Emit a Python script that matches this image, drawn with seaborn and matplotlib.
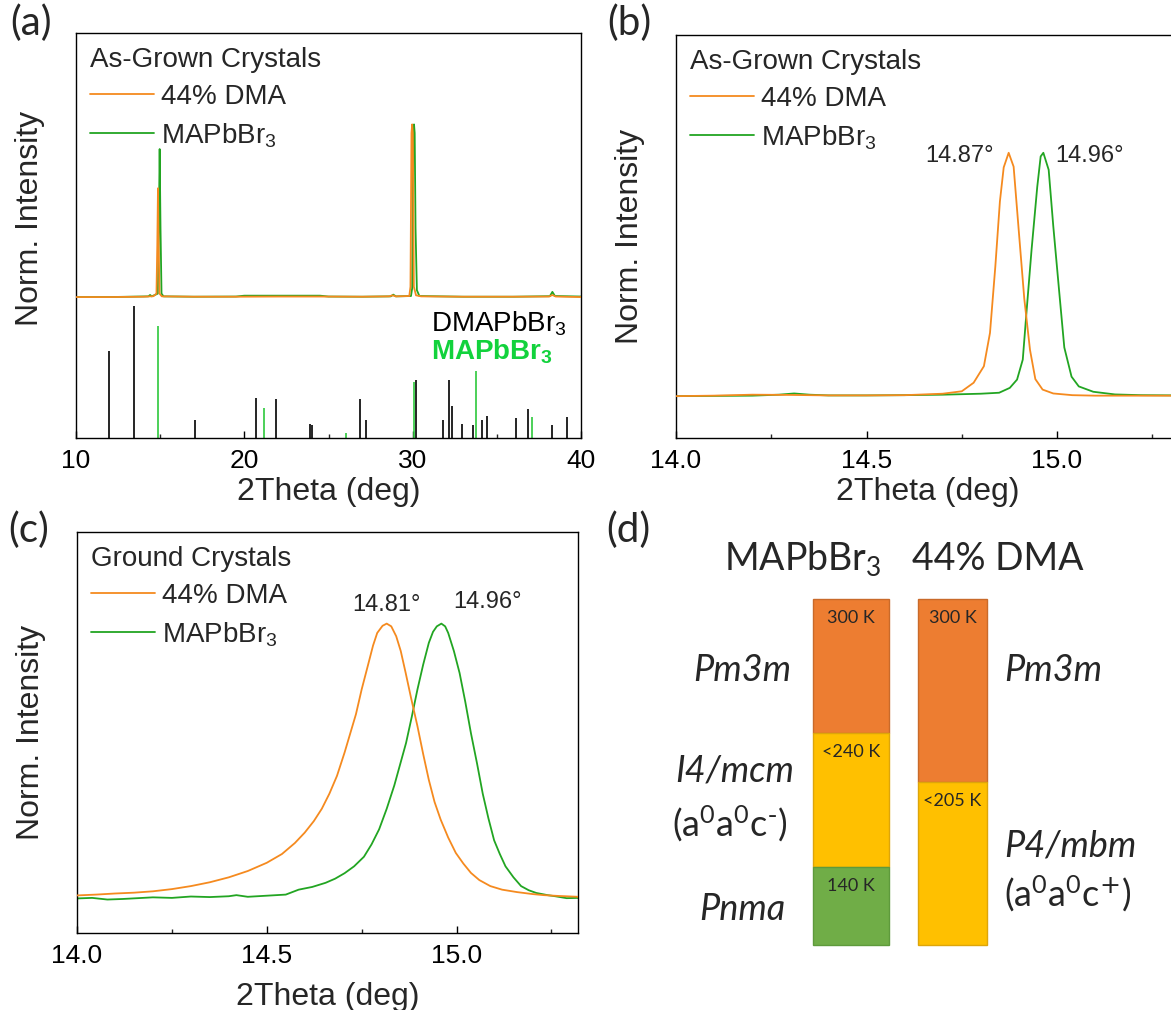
import matplotlib
matplotlib.use("Agg")
import matplotlib.pyplot as plt
from matplotlib.ticker import FormatStrFormatter
import numpy as np
import pandas as pd
import seaborn as sns

# ---------------- data ----------------
# (a) wide-range XRD patterns, normalized intensity
a_dma_x = [10.0, 12.0, 14.0, 14.6, 14.78, 14.83, 14.87, 14.91, 14.96, 15.1, 17.0, 19.5, 22.0, 24.5, 27.0,
           28.6, 28.8, 29.0, 29.8, 29.87, 29.93, 29.97, 30.01, 30.07, 30.2, 30.5, 33.0, 36.0, 38.1, 38.3, 38.5, 40.0]
a_dma_y = [0.000, 0.000, 0.002, 0.005, 0.020, 0.300, 0.630, 0.300, 0.020, 0.004, 0.002, 0.002, 0.003, 0.003, 0.002,
           0.004, 0.010, 0.004, 0.006, 0.060, 0.950, 1.000, 0.950, 0.060, 0.010, 0.004, 0.002, 0.002, 0.003, 0.012, 0.003, 0.000]
a_ma_x = [10.0, 12.0, 14.3, 14.4, 14.5, 14.86, 14.92, 14.97, 15.02, 15.08, 15.2, 17.0, 19.5, 20.0, 24.5, 25.0, 27.0,
          28.7, 28.85, 29.0, 29.9, 29.97, 30.03, 30.08, 30.12, 30.17, 30.25, 30.4, 33.0, 36.0, 38.15, 38.3, 38.45, 40.0]
a_ma_y = [0.000, 0.000, 0.004, 0.012, 0.004, 0.020, 0.400, 0.857, 0.400, 0.020, 0.004, 0.002, 0.003, 0.008, 0.008, 0.003, 0.002,
          0.004, 0.014, 0.004, 0.006, 0.050, 0.950, 1.000, 0.950, 0.400, 0.040, 0.006, 0.002, 0.002, 0.005, 0.030, 0.006, 0.003]

# (a) reference stick patterns (relative intensity, %)
dma_ref_pos = [11.99, 13.43, 17.09, 20.70, 21.87, 23.92, 24.02, 26.89, 27.23, 30.22, 31.79, 32.15, 32.35,
               32.95, 33.59, 34.14, 34.40, 36.16, 36.87, 38.27, 39.18]
dma_ref_int = [66.0, 100.0, 13.4, 30.2, 29.5, 10.6, 10.1, 29.5, 13.9, 43.6, 13.9, 44.1, 23.9,
               10.8, 9.6, 13.9, 16.4, 15.1, 22.2, 9.6, 15.6]
ma_ref_pos = [14.90, 21.14, 26.02, 30.10, 33.78, 37.11]
ma_ref_int = [84.9, 22.7, 3.8, 42.1, 50.4, 15.6]

# (b) as-grown crystals, (100) peak
b_dma_x = [14.00, 14.10, 14.20, 14.30, 14.40, 14.50, 14.60, 14.70, 14.75, 14.781, 14.808, 14.824, 14.838, 14.850,
           14.860, 14.873, 14.886, 14.900, 14.914, 14.929, 14.943, 14.962, 14.99, 15.04, 15.10, 15.20, 15.32]
b_dma_y = [0.000, 0.002, 0.006, 0.005, 0.003, 0.003, 0.004, 0.010, 0.020, 0.055, 0.123, 0.260, 0.533, 0.800,
           0.940, 1.000, 0.943, 0.670, 0.400, 0.190, 0.070, 0.027, 0.011, 0.004, 0.002, 0.002, 0.002]
b_ma_x = [14.00, 14.10, 14.20, 14.27, 14.31, 14.35, 14.40, 14.50, 14.60, 14.70, 14.80, 14.848, 14.876, 14.895,
          14.910, 14.919, 14.933, 14.948, 14.957, 14.964, 14.978, 14.990, 15.005, 15.019, 15.038, 15.057, 15.095,
          15.152, 15.22, 15.32]
b_ma_y = [0.000, 0.001, 0.002, 0.006, 0.011, 0.006, 0.003, 0.003, 0.004, 0.006, 0.010, 0.014, 0.034, 0.068,
          0.150, 0.330, 0.600, 0.860, 0.985, 1.000, 0.930, 0.700, 0.440, 0.200, 0.080, 0.040, 0.018,
          0.007, 0.004, 0.003]
b_peaks = ["14.87°", "14.96°"]

# (c) ground crystals, (100) peak
c_dma_x = [14.00, 14.05, 14.10, 14.15, 14.20, 14.25, 14.30, 14.35, 14.40, 14.45, 14.50, 14.54, 14.574, 14.60,
           14.624, 14.645, 14.665, 14.685, 14.705, 14.72, 14.735, 14.75, 14.766, 14.78, 14.791, 14.805, 14.816,
           14.828, 14.841, 14.853, 14.866, 14.88, 14.897, 14.912, 14.927, 14.942, 14.958, 14.978, 14.998, 15.018,
           15.038, 15.06, 15.089, 15.12, 15.16, 15.20, 15.23, 15.27, 15.32]
c_dma_y = [0.009, 0.012, 0.016, 0.019, 0.024, 0.032, 0.043, 0.057, 0.075, 0.098, 0.128, 0.160, 0.200, 0.238,
           0.280, 0.325, 0.380, 0.445, 0.530, 0.600, 0.670, 0.760, 0.845, 0.920, 0.966, 0.992, 1.000,
           0.990, 0.954, 0.900, 0.820, 0.730, 0.626, 0.525, 0.430, 0.350, 0.286, 0.220, 0.164, 0.125,
           0.091, 0.065, 0.043, 0.030, 0.021, 0.014, 0.010, 0.007, 0.004]
c_ma_x = [14.00, 14.04, 14.08, 14.12, 14.16, 14.20, 14.25, 14.30, 14.35, 14.40, 14.42, 14.45, 14.50, 14.55,
          14.584, 14.62, 14.655, 14.68, 14.705, 14.73, 14.756, 14.776, 14.796, 14.816, 14.836, 14.852, 14.867,
          14.882, 14.897, 14.912, 14.927, 14.938, 14.948, 14.96, 14.97, 14.978, 14.993, 15.008, 15.023, 15.038,
          15.054, 15.069, 15.084, 15.099, 15.114, 15.129, 15.15, 15.17, 15.19, 15.21, 15.24, 15.26, 15.29, 15.32]
c_ma_y = [-0.002, 0.000, -0.006, -0.004, -0.001, 0.002, 0.000, 0.005, 0.003, 0.006, 0.010, 0.004, 0.008, 0.012,
          0.030, 0.040, 0.055, 0.070, 0.090, 0.115, 0.150, 0.195, 0.250, 0.325, 0.410, 0.490, 0.565,
          0.660, 0.760, 0.850, 0.930, 0.970, 0.990, 1.000, 0.990, 0.966, 0.900, 0.820, 0.715, 0.600,
          0.490, 0.380, 0.290, 0.210, 0.160, 0.115, 0.075, 0.043, 0.028, 0.018, 0.010, 0.006, -0.001, 0.000]
c_peaks = ["14.81°", "14.96°"]

# (d) phase diagram (schematic fractions of column height, top = 300 K)
d_columns = ["MAPbBr$_3$", "44% DMA"]
d_ma_temps = ["300 K", "<240 K", "140 K"]
d_ma_spans = [0.387, 0.388, 0.225]
d_ma_phases = ["Pm3m", "I4/mcm\n(a$^0$a$^0$c$^{\\text{-}}$)", "Pnma"]
d_dma_temps = ["300 K", "<205 K"]
d_dma_spans = [0.529, 0.471]
d_dma_phases = ["Pm3m", "P4/mbm\n(a$^0$a$^0$c$^{\\text{+}}$)"]

# ---------------- style ----------------
sns.set_theme(style="white")
plt.rcParams["font.family"] = ["Liberation Sans", "DejaVu Sans"]
plt.rcParams["mathtext.default"] = "regular"
plt.rcParams["axes.edgecolor"] = "black"
plt.rcParams["axes.linewidth"] = 1.0

ORANGE = "#F58A1F"
GREEN = "#22A522"
STICK_GREEN = "#2DC83C"
LABEL_GREEN = "#12D23C"
BAR_FILL = ["#ED7D31", "#FFC000", "#70AD47"]
BAR_EDGE = ["#C96A2A", "#DDA50A", "#5E9A3C"]
CALIBRI = ["Lato", "DejaVu Sans"]

W, H = 1171, 1010
fig = plt.figure(figsize=(W / 100, H / 100), dpi=100)


def px_axes(l, t, r, b):
    return fig.add_axes([l / W, 1 - b / H, (r - l) / W, (b - t) / H])


def style_axes(ax, xlim, ylim, major, minor, fmt, ylab_y=0.5, xlab_y=-0.09):
    ax.set_xlim(*xlim)
    ax.set_ylim(*ylim)
    ax.set_xticks(major)
    ax.set_xticks(minor, minor=True)
    ax.xaxis.set_major_formatter(FormatStrFormatter(fmt))
    ax.tick_params(axis="x", which="major", direction="in", length=5, width=1.0,
                   labelsize=19, pad=8, bottom=True, top=False, colors="black")
    ax.tick_params(axis="x", which="minor", direction="in", length=2.7, width=1.0,
                   bottom=True, top=False)
    ax.tick_params(axis="y", left=False, right=False, labelleft=False)
    for s in ax.spines.values():
        s.set_color("black")
        s.set_linewidth(1.0)
    ax.set_xlabel("2Theta (deg)", fontsize=23)
    ax.set_ylabel("Norm. Intensity", fontsize=23)
    ax.yaxis.set_label_coords(-0.062, ylab_y)
    ax.xaxis.set_label_coords(0.5, xlab_y)


def add_legend(ax, title):
    leg = ax.legend(title=title, loc="upper left", frameon=False, fontsize=20,
                    title_fontsize=20, alignment="left", borderpad=0.0,
                    borderaxespad=0.5, handlelength=2.3, handletextpad=0.25,
                    labelspacing=0.4)
    return leg


def plot_pair(ax, x1, y1, x2, y2, off=0.0, scale=1.0):
    sns.lineplot(x=np.asarray(x1), y=off + scale * np.asarray(y1), ax=ax, color=ORANGE,
                 linewidth=1.3, label="44% DMA", estimator=None, sort=False, zorder=3)
    sns.lineplot(x=np.asarray(x2), y=off + scale * np.asarray(y2), ax=ax, color=GREEN,
                 linewidth=1.3, label="MAPbBr$_3$", estimator=None, sort=False, zorder=2)


# ---------------- (a) ----------------
axa = px_axes(76, 33, 581, 438)
XRD_OFF, XRD_SCALE, STICK_SCALE = 0.348, 0.4264, 0.3267 / 100.0
plot_pair(axa, a_dma_x, a_dma_y, a_ma_x, a_ma_y, XRD_OFF, XRD_SCALE)
axa.vlines(dma_ref_pos, 0, np.asarray(dma_ref_int) * STICK_SCALE, color="black", linewidth=1.2)
axa.vlines(ma_ref_pos, 0, np.asarray(ma_ref_int) * STICK_SCALE, color=STICK_GREEN, linewidth=1.2)
style_axes(axa, (10, 40), (0, 1), [10, 20, 30, 40], [15, 25, 35], "%d", ylab_y=0.543, xlab_y=-0.097)
add_legend(axa, "As-Grown Crystals")
axa.text(31.09, 0.262, "DMAPbBr$_3$", fontsize=20, color="black", ha="left", va="baseline")
axa.text(31.09, 0.193, "MAPbBr$_3$", fontsize=20, color=LABEL_GREEN, fontweight="bold",
         ha="left", va="baseline")

# ---------------- (b) ----------------
axb = px_axes(676, 35, 1179, 438)
plot_pair(axb, b_dma_x, b_dma_y, b_ma_x, b_ma_y)
style_axes(axb, (14.0, 15.32), (-0.172, 1.484), [14.0, 14.5, 15.0], [14.25, 14.75, 15.25], "%.1f",
           xlab_y=-0.097)
add_legend(axb, "As-Grown Crystals")
axb.text(14.745, 0.963, b_peaks[0], fontsize=17, ha="center", va="baseline")
axb.text(15.086, 0.963, b_peaks[1], fontsize=17, ha="center", va="baseline")

# ---------------- (c) ----------------
axc = px_axes(77, 532, 578, 933)
plot_pair(axc, c_dma_x, c_dma_y, c_ma_x, c_ma_y)
style_axes(axc, (14.0, 15.32), (-0.128, 1.334), [14.0, 14.5, 15.0], [14.25, 14.75, 15.25], "%.1f",
           xlab_y=-0.122)
add_legend(axc, "Ground Crystals")
axc.text(14.816, 1.045, c_peaks[0], fontsize=17, ha="center", va="baseline")
axc.text(15.081, 1.057, c_peaks[1], fontsize=17, ha="center", va="baseline")

# ---------------- (d) ----------------
axd = px_axes(600, 500, 1171, 1010)
axd.set_xlim(600, 1171)
axd.set_ylim((1010 - 599) / 346, (500 - 599) / 346)
axd.axis("off")

col_x = [851, 952.5]
col_w = [76, 69]
for xc, w, spans, temps in [(col_x[0], col_w[0], d_ma_spans, d_ma_temps),
                            (col_x[1], col_w[1], d_dma_spans, d_dma_temps)]:
    top = 0.0
    for k, (span, t) in enumerate(zip(spans, temps)):
        axd.bar(xc, span, bottom=top, width=w, color=BAR_FILL[k], edgecolor=BAR_EDGE[k],
                linewidth=1.0, align="center")
        axd.text(xc, top + 0.07, t, fontsize=13, family=CALIBRI, ha="center", va="baseline")
        top += span

axd.text(803, -0.084, d_columns[0], fontsize=27, family=CALIBRI, ha="center", va="baseline")
axd.text(998, -0.084, d_columns[1], fontsize=27, family=CALIBRI, ha="center", va="baseline")

# left column phase labels
axd.text(742, 0.199, d_ma_phases[0], fontsize=26, family=CALIBRI, style="italic",
         ha="center", va="center_baseline")
l2a, l2b = d_ma_phases[1].split("\n")
axd.text(735, 0.488, l2a, fontsize=26, family=CALIBRI, style="italic", ha="center", va="center_baseline")
axd.text(730, 0.639, l2b, fontsize=26, family=CALIBRI, ha="center", va="center_baseline")
axd.text(742, 0.890, d_ma_phases[2], fontsize=26, family=CALIBRI, style="italic",
         ha="center", va="center_baseline")
# right column phase labels
axd.text(1004, 0.199, d_dma_phases[0], fontsize=26, family=CALIBRI, style="italic",
         ha="left", va="center_baseline")
r2a, r2b = d_dma_phases[1].split("\n")
axd.text(1004, 0.705, r2a, fontsize=26, family=CALIBRI, style="italic", ha="left", va="center_baseline")
axd.text(1004, 0.841, r2b, fontsize=26, family=CALIBRI, ha="left", va="center_baseline")

# panel letters
for lab, x, y in [("(a)", 10, 23), ("(b)", 607, 23), ("(c)", 8, 530), ("(d)", 606, 530)]:
    fig.text(x / W, 1 - y / H, lab, fontsize=29, family=CALIBRI, ha="left", va="center")

fig.savefig("out.png", dpi=100)
